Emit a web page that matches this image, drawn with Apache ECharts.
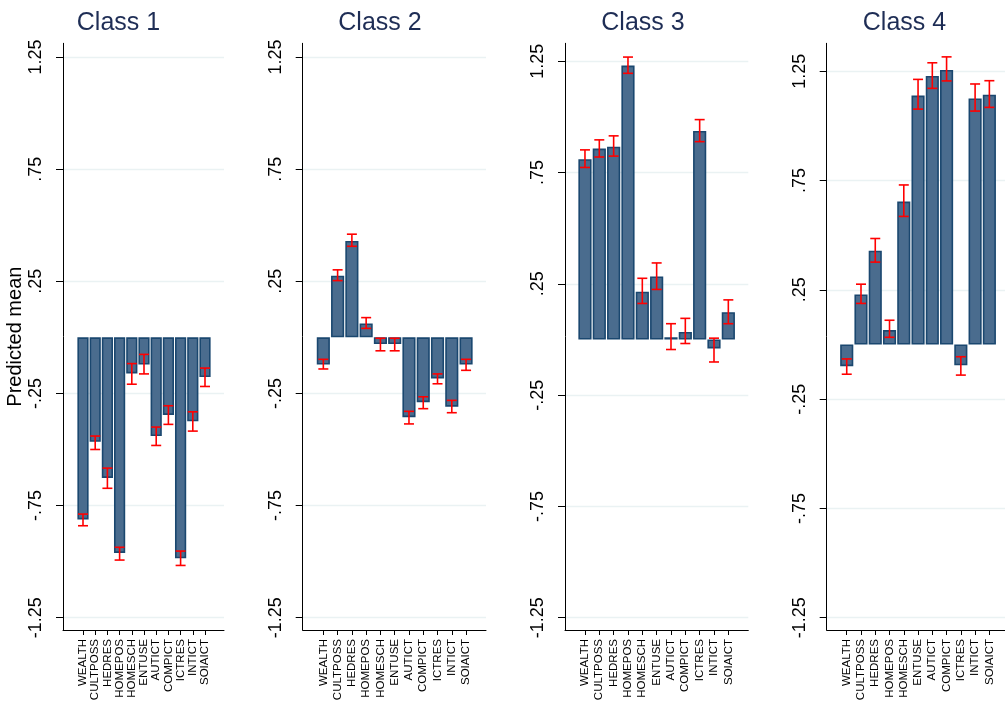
<!DOCTYPE html>
<html>
<head>
<meta charset="utf-8">
<script src="https://cdn.jsdelivr.net/npm/echarts@6/dist/echarts.min.js"></script>
<style>
html,body{margin:0;padding:0;background:#fff;}
#chart{width:1005px;height:707px;}
</style>
</head>
<body>
<div id="chart"></div>
<script>
const categories = ['WEALTH','CULTPOSS','HEDRES','HOMEPOS','HOMESCH','ENTUSE','AUTICT','COMPICT','ICTRES','INTICT','SOIAICT'];
const classNames = ['Class 1','Class 2','Class 3','Class 4'];
const yTickValues = [-1.25,-0.75,-0.25,0.25,0.75,1.25];
const yTickLabels = ['-1.25','-.75','-.25','.25','.75','1.25'];
const yAxisTitle = 'Predicted mean';

const class1Mean  = [-0.812,-0.466,-0.627,-0.961,-0.161,-0.121,-0.440,-0.346,-0.985,-0.374,-0.177];
const class1Lower = [-0.840,-0.500,-0.673,-0.993,-0.209,-0.163,-0.482,-0.388,-1.017,-0.418,-0.219];
const class1Upper = [-0.788,-0.440,-0.583,-0.936,-0.117,-0.076,-0.400,-0.305,-0.953,-0.332,-0.137];

const class2Mean  = [-0.121,0.275,0.430,0.062,-0.030,-0.030,-0.356,-0.289,-0.183,-0.309,-0.121];
const class2Lower = [-0.141,0.253,0.406,0.040,-0.060,-0.060,-0.386,-0.318,-0.207,-0.336,-0.147];
const class2Upper = [-0.098,0.301,0.460,0.088,-0.004,-0.004,-0.330,-0.265,-0.163,-0.281,-0.098];

const class3Mean  = [0.810,0.858,0.866,1.231,0.215,0.283,0.010,0.034,0.937,-0.040,0.123];
const class3Lower = [0.773,0.820,0.824,1.196,0.162,0.225,-0.045,-0.018,0.889,-0.101,0.071];
const class3Upper = [0.852,0.897,0.915,1.269,0.275,0.344,0.071,0.095,0.988,0.006,0.178];

const class4Mean  = [-0.099,0.229,0.429,0.066,0.654,1.139,1.229,1.256,-0.095,1.126,1.143];
const class4Lower = [-0.136,0.188,0.377,0.033,0.586,1.077,1.172,1.206,-0.140,1.068,1.085];
const class4Upper = [-0.066,0.276,0.485,0.111,0.730,1.213,1.289,1.316,-0.056,1.192,1.207];

const means  = [class1Mean, class2Mean, class3Mean, class4Mean];
const lowers = [class1Lower, class2Lower, class3Lower, class4Lower];
const uppers = [class1Upper, class2Upper, class3Upper, class4Upper];

// layout (pixels)
const frameTop = 43.3, frameBottom = 630;
const layout = [
  {axisX:63,    rightEnd:224,  tickTop:57,   tickBot:617.7, barL:76.9,  barR:211.1, titleX:113.5},
  {axisX:302.7, rightEnd:486,  tickTop:57,   tickBot:617.7, barL:316.2, barR:473.2, titleX:375},
  {axisX:565,   rightEnd:748.3,tickTop:61.3, tickBot:617.7, barL:577.8, barR:735.5, titleX:638},
  {axisX:826.7, rightEnd:1010, tickTop:71.3, tickBot:617.7, barL:839.6, barR:996.5, titleX:899.5}
];

const FONT = '"Liberation Sans", Arial, sans-serif';
const barFill = '#4a6c8e', barBorder = '#1a476f', gridColor = '#eaf2f3', errColor = '#ff0000';

const grid = [], xAxis = [], yAxis = [], series = [], title = [];

layout.forEach((p, k) => {
  const gF = grid.length;
  grid.push({left:p.axisX, top:frameTop, width:p.rightEnd - p.axisX, height:frameBottom - frameTop, outerBoundsMode:'none', containLabel:false});
  const gL = grid.length;
  grid.push({left:p.axisX, top:p.tickTop, width:p.rightEnd - p.axisX, height:p.tickBot - p.tickTop, outerBoundsMode:'none', containLabel:false});
  const gB = grid.length;
  grid.push({left:p.barL, top:p.tickTop, width:p.barR - p.barL, height:p.tickBot - p.tickTop, outerBoundsMode:'none', containLabel:false});

  // frame axes
  const xF = xAxis.length;
  xAxis.push({gridIndex:gF, type:'value', min:0, max:1, axisLine:{show:true, onZero:false, lineStyle:{color:'#000', width:1}}, axisTick:{show:false}, axisLabel:{show:false}, splitLine:{show:false}});
  const yF = yAxis.length;
  yAxis.push({gridIndex:gF, type:'value', min:0, max:1, axisLine:{show:true, onZero:false, lineStyle:{color:'#000', width:1}}, axisTick:{show:false}, axisLabel:{show:false}, splitLine:{show:false},
    name: k === 0 ? yAxisTitle : '', nameLocation:'middle', nameRotate:90, nameGap:38,
    nameTextStyle:{fontFamily:FONT, fontSize:20, color:'#000'}});

  // label axes
  const xL = xAxis.length;
  xAxis.push({gridIndex:gL, type:'value', show:false, min:0, max:1});
  const yL = yAxis.length;
  yAxis.push({gridIndex:gL, type:'value', min:-1.25, max:1.25, interval:0.5,
    axisLine:{show:false, onZero:false}, axisTick:{show:true, length:7, lineStyle:{color:'#000', width:1}},
    axisLabel:{show:true, rotate:90, margin:18, fontFamily:FONT, fontSize:18, color:'#000',
      formatter: v => { const i = yTickValues.findIndex(t => Math.abs(t - v) < 1e-6); return i >= 0 ? yTickLabels[i] : ''; }},
    splitLine:{show:true, lineStyle:{color:gridColor, width:1.3}}});

  // bar axes
  const xB = xAxis.length;
  xAxis.push({gridIndex:gB, type:'category', data:categories, position:'bottom', offset: frameBottom - p.tickBot,
    axisLine:{show:false, onZero:false}, axisTick:{show:true, alignWithLabel:true, length:5, lineStyle:{color:'#000', width:1}},
    axisLabel:{show:true, interval:0, rotate:90, margin:9, fontFamily:FONT, fontSize:11.5, color:'#000'}});
  const yB = yAxis.length;
  yAxis.push({gridIndex:gB, type:'value', min:-1.25, max:1.25, show:false});

  series.push({type:'line', xAxisIndex:xF, yAxisIndex:yF, data:[], silent:true});
  series.push({type:'line', xAxisIndex:xL, yAxisIndex:yL, data:[], silent:true});

  series.push({type:'bar', xAxisIndex:xB, yAxisIndex:yB, data:means[k], barWidth:'92%', clip:false,
    itemStyle:{color:barFill, borderColor:barBorder, borderWidth:1.6}, silent:true, z:3});

  const errData = categories.map((c, i) => [i, lowers[k][i], uppers[k][i]]);
  series.push({type:'custom', xAxisIndex:xB, yAxisIndex:yB, data:errData, clip:false, silent:true, z:5,
    encode:{x:0, y:[1,2]},
    renderItem:(params, api) => {
      const x = api.value(0);
      const lo = api.coord([x, api.value(1)]);
      const hi = api.coord([x, api.value(2)]);
      const h = 5;
      const st = {stroke:errColor, lineWidth:1.6};
      return {type:'group', children:[
        {type:'line', shape:{x1:lo[0], y1:lo[1], x2:hi[0], y2:hi[1]}, style:st},
        {type:'line', shape:{x1:lo[0]-h, y1:lo[1], x2:lo[0]+h, y2:lo[1]}, style:st},
        {type:'line', shape:{x1:hi[0]-h, y1:hi[1], x2:hi[0]+h, y2:hi[1]}, style:st}
      ]};
    }});

  title.push({text:classNames[k], left:p.titleX, top:6, textAlign:'center',
    textStyle:{fontFamily:FONT, fontSize:25, fontWeight:'normal', color:'#1e2d55'}});
});

const chart = echarts.init(document.getElementById('chart'), null, {renderer:'canvas'});
chart.setOption({animation:false, backgroundColor:'#fff', title, grid, xAxis, yAxis, series});
</script>
</body>
</html>
